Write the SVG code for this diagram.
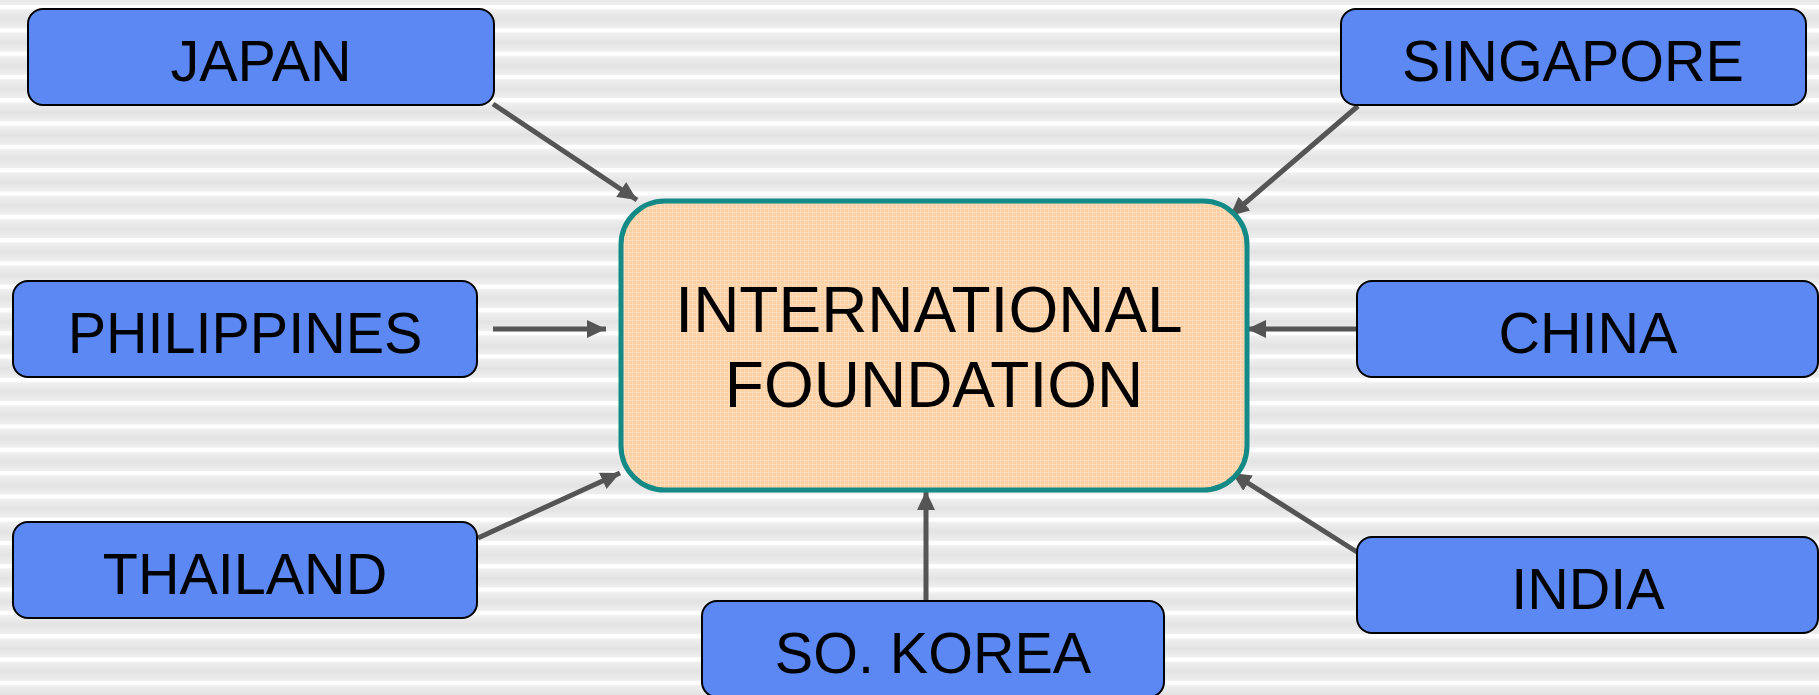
<svg xmlns="http://www.w3.org/2000/svg" width="1819" height="695" viewBox="0 0 1819 695">
<style>
.node rect{fill:#5b88f2;stroke:#000;stroke-width:2}
.node text{font-family:"Liberation Sans",Arial,sans-serif;font-size:57.5px;fill:#000;text-anchor:middle}
.center text{font-family:"Liberation Sans",Arial,sans-serif;font-size:64px;fill:#000;text-anchor:middle}
.conn line{stroke:#555;stroke-width:5;marker-end:url(#ah)}
</style>
<defs>
<linearGradient id="sg" x1="0" y1="0" x2="0" y2="1">
<stop offset="0" stop-color="#ffffff"/>
<stop offset="0.16" stop-color="#ffffff"/>
<stop offset="0.2" stop-color="#f0f0f0"/>
<stop offset="0.6" stop-color="#e3e3e3"/>
<stop offset="1" stop-color="#efefef"/>
</linearGradient>
<pattern id="stripes" x="0" y="5" width="1819" height="23.3" patternUnits="userSpaceOnUse">
<rect width="1819" height="23.3" fill="url(#sg)"/>
</pattern>
<pattern id="weave" width="4" height="4" patternUnits="userSpaceOnUse">
<rect width="4" height="4" fill="#fcd0a2"/>
<rect width="4" height="1" fill="#fddcbb"/>
<rect width="1" height="4" fill="#fddcbb"/>
</pattern>
<marker id="ah" markerUnits="userSpaceOnUse" markerWidth="22" markerHeight="20" refX="19" refY="9" orient="auto">
<path d="M0,0 L19,9 L0,18 Z" fill="#555"/>
</marker>
</defs>
<rect width="1819" height="695" fill="url(#stripes)"/>
<g id="connectors" class="conn">
<line x1="493" y1="104" x2="637" y2="200"/>
<line x1="1358" y1="106" x2="1230" y2="216"/>
<line x1="493" y1="329" x2="606" y2="329"/>
<line x1="1357" y1="329" x2="1247" y2="329"/>
<line x1="478" y1="538" x2="620" y2="473"/>
<line x1="1357" y1="552" x2="1232" y2="473"/>
<line x1="926" y1="601" x2="926" y2="491"/>
</g>
<g id="center" class="center">
<rect x="621" y="201" width="626" height="289" rx="44" fill="url(#weave)" stroke="#138a85" stroke-width="5"/>
<text x="929" y="332">INTERNATIONAL</text>
<text x="934" y="407">FOUNDATION</text>
</g>
<g id="japan" class="node"><rect x="28" y="9" width="466" height="96" rx="15"/><text x="261" y="81">JAPAN</text></g>
<g id="singapore" class="node"><rect x="1341" y="9" width="465" height="96" rx="15"/><text x="1573" y="81">SINGAPORE</text></g>
<g id="philippines" class="node"><rect x="13" y="281" width="464" height="96" rx="15"/><text x="245" y="353">PHILIPPINES</text></g>
<g id="china" class="node"><rect x="1357" y="281" width="461" height="96" rx="15"/><text x="1588" y="353">CHINA</text></g>
<g id="thailand" class="node"><rect x="13" y="522" width="464" height="96" rx="15"/><text x="245" y="594">THAILAND</text></g>
<g id="india" class="node"><rect x="1357" y="537" width="461" height="96" rx="15"/><text x="1588" y="609">INDIA</text></g>
<g id="sokorea" class="node"><rect x="702" y="601" width="462" height="96" rx="15"/><text x="933" y="673">SO. KOREA</text></g>
</svg>
